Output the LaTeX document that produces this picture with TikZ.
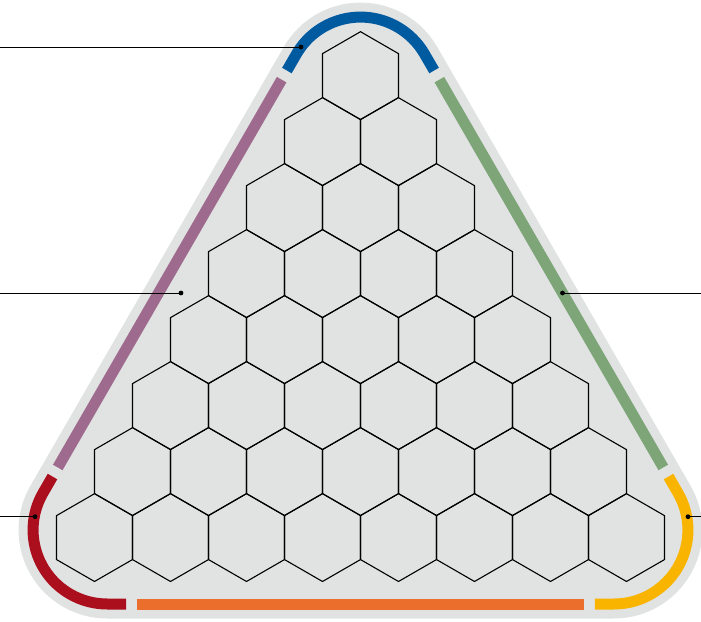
\documentclass[tikz,border=0pt]{standalone}
\definecolor{bggray}{HTML}{E1E2E2}
\definecolor{cblue}{HTML}{005AA0}
\definecolor{cpurple}{HTML}{9E6B8E}
\definecolor{cgreen}{HTML}{7DA578}
\definecolor{cred}{HTML}{AB0F1E}
\definecolor{corange}{HTML}{EB6E2D}
\definecolor{cyellow}{HTML}{F9B400}
\tikzset{
  band/.style={line width=11pt, line cap=butt, line join=round},
  hexline/.style={draw=black, line width=1.1pt, line join=miter},
  leader/.style={draw=black, line width=0.9pt},
  leaderdot/.style={fill=black}
}
\begin{document}
\begin{tikzpicture}[x=1pt,y=1pt]
\useasboundingbox (0,0) rectangle (701,621);
% gray rounded triangle
\path[fill=bggray, draw=bggray, line width=29pt, line join=round]
  (296.4,566.9) -- (43,128) arc[start angle=150, end angle=270, radius=74pt]
  -- (613.9,17) arc[start angle=270, end angle=390, radius=74pt]
  -- (424.6,566.9) arc[start angle=30, end angle=150, radius=74pt] -- cycle;
% coloured bands
\draw[band, cblue] (286.9,550.45) -- (296.4,566.9) arc[start angle=150, end angle=30, radius=74pt] -- (434.1,550.45);
\draw[band, cpurple] (281.65,541.35) -- (57.75,153.55);
\draw[band, cred] (52.5,144.45) -- (43,128) arc[start angle=150, end angle=270, radius=74pt] -- (126.1,17);
\draw[band, corange] (136.6,17) -- (584.4,17);
\draw[band, cyellow] (594.9,17) -- (613.9,17) arc[start angle=270, end angle=390, radius=74pt] -- (668.5,144.45);
\draw[band, cgreen] (663.25,153.55) -- (439.35,541.35);
% hexagons
\foreach \r in {0,...,7}{
  \foreach \k in {0,...,\r}{
    \pgfmathsetmacro{\cx}{360.5+(\k-\r/2)*76}
    \pgfmathsetmacro{\cy}{545.4-66*\r}
    \draw[hexline] (\cx,\cy) +(90:43.9) -- +(150:43.9) -- +(210:43.9) -- +(270:43.9) -- +(330:43.9) -- +(30:43.9) -- cycle;
  }
}
% leader lines
\coordinate (pblue) at (301,574);
\coordinate (eblue) at (0,574);
\coordinate (ppurple) at (181,328);
\coordinate (epurple) at (0,328);
\coordinate (pgreen) at (562.5,328);
\coordinate (egreen) at (701,328);
\coordinate (pred) at (35,104.3);
\coordinate (ered) at (0,104.3);
\coordinate (pyellow) at (688,104.3);
\coordinate (eyellow) at (701,104.3);
\draw[leader] (eblue) -- (pblue);
\draw[leader] (epurple) -- (ppurple);
\draw[leader] (egreen) -- (pgreen);
\draw[leader] (ered) -- (pred);
\draw[leader] (eyellow) -- (pyellow);
\foreach \p in {pblue,ppurple,pgreen,pred,pyellow}{
  \fill[leaderdot] (\p) circle[radius=2.4pt];
}
\end{tikzpicture}
\end{document}
